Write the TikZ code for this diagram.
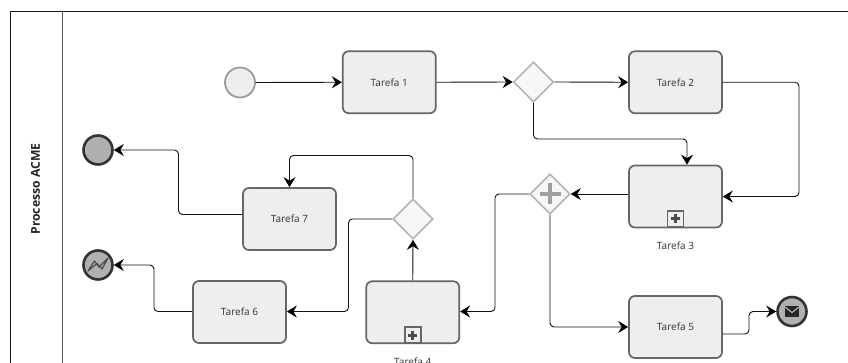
\documentclass[tikz,border=0pt]{standalone}
\usepackage{fontspec}
\setmainfont{Open Sans}
\usetikzlibrary{arrows.meta,shapes.geometric,calc}
\definecolor{taskline}{HTML}{666666}
\definecolor{taskfill}{HTML}{EEEEEE}
\definecolor{gateline}{HTML}{B4B4B4}
\definecolor{endfill}{HTML}{B0B0B0}
\definecolor{endline}{HTML}{333333}
\definecolor{flow}{HTML}{111111}
\tikzset{
  taskbox/.style={draw=taskline,fill=taskfill,line width=1.7pt,rounded corners=6pt,minimum width=93pt,minimum height=62pt,inner sep=0pt,font=\fontsize{10}{11}\selectfont,text=black!80},
  gate/.style={diamond,draw=gateline,fill=white!97!black,line width=1.6pt,minimum width=40pt,minimum height=40pt,inner sep=0pt},
  startev/.style={circle,draw=gray!80,fill=taskfill,line width=1.8pt,minimum size=30pt,inner sep=0pt},
  endev/.style={circle,draw=endline,fill=endfill,line width=2.6pt,minimum size=29pt,inner sep=0pt},
  flowline/.style={draw=flow,line width=0.9pt,rounded corners=4pt,-{Stealth[length=10pt,width=12pt,inset=3.5pt,color=black]}},
  caption/.style={font=\fontsize{10}{11}\selectfont,text=black!80,inner sep=0pt},
  plusbar/.style={line width=4.2pt,draw=gray!75},
  markbox/.style={draw=taskline,fill=taskfill,line width=1.6pt,minimum size=16pt,inner sep=0pt},
  markplus/.style={line width=3pt,draw=black!70}
}
\begin{document}
\begin{tikzpicture}[x=1pt,y=-1pt]
\clip (0,0) rectangle (848,363);
\fill[white] (0,0) rectangle (848,363);
% pool
\draw[black!90,line width=0.8pt] (848,11.5) -- (10.5,11.5) -- (10.5,370);
\draw[black!65,line width=1pt] (62,11.5) -- (62,370);
\node[rotate=90,font=\fontsize{12.2}{14}\bfseries\selectfont,text=black!85,inner sep=0pt] (pool) at (35.5,189) {Processo ACME};
% events
\node[startev] (start) at (240,82.5) {};
\node[endev] (endA) at (98,150) {};
\node[endev] (endB) at (98,265) {};
\node[endev] (endC) at (792,311.5) {};
% tasks
\node[taskbox] (t1) at (389.25,82.25) {Tarefa 1};
\node[taskbox] (t2) at (675.5,82.25) {Tarefa 2};
\node[taskbox] (t3) at (675.5,196.5) {};
\node[taskbox] (t4) at (412.75,312.25) {};
\node[taskbox] (t5) at (675.5,327) {Tarefa 5};
\node[taskbox] (t6) at (239.5,312) {Tarefa 6};
\node[taskbox] (t7) at (289.5,219) {Tarefa 7};
\node[caption] (c3) at (675.5,246) {Tarefa 3};
\node[caption] (c4) at (412.75,362) {Tarefa 4};
% sub-process markers
\node[markbox] (m3) at (675.5,219) {};
\node[markbox] (m4) at (412.75,335) {};
\draw[markplus] ($(m3)+(-4.5,0)$) -- ($(m3)+(4.5,0)$) ($(m3)+(0,-4.5)$) -- ($(m3)+(0,4.5)$);
\draw[markplus] ($(m4)+(-4.5,0)$) -- ($(m4)+(4.5,0)$) ($(m4)+(0,-4.5)$) -- ($(m4)+(0,4.5)$);
% gateways
\node[gate] (g1) at (533.5,82) {};
\node[gate] (g2) at (550,194) {};
\node[gate] (g3) at (413,219) {};
\draw[plusbar] ($(g2)+(-10.5,0)$) -- ($(g2)+(10.5,0)$) ($(g2)+(0,-10.5)$) -- ($(g2)+(0,10.5)$);
% event icons
\draw[line width=1.2pt,draw=black!70,line join=round] ($(endB)+(-10,6)$) -- ($(endB)+(-3.5,-4)$) -- ($(endB)+(1,2)$) -- ($(endB)+(10,-7)$) -- ($(endB)+(4,4)$) -- ($(endB)+(-1,-1.5)$) -- cycle;
\fill[black!85] ($(endC)+(-7,-5.5)$) rectangle ($(endC)+(7,5.5)$);
\draw[endfill,line width=1.2pt] ($(endC)+(-7,-4.5)$) -- ($(endC)+(0,1)$) -- ($(endC)+(7,-4.5)$);
% flows
\draw[flowline] (start.east) -- (t1.west);
\draw[flowline] (t1.east) -- (g1.west);
\draw[flowline] (g1.east) -- (t2.west);
\draw[flowline] (t2.east) -- (799,82.25) -- (799,196.5) -- (t3.east);
\draw[flowline] (g1.south) -- (533.5,139) -- (687,139) -- ($(t3.north)+(11.5,0)$);
\draw[flowline] ($(t3.west)+(0,-2.5)$) -- (g2.east);
\draw[flowline] (g2.west) -- (495,194) -- (495,311.5) -- ($(t4.east)+(0,-0.75)$);
\draw[flowline] (g2.south) -- (550,327) -- (t5.west);
\draw[flowline] ($(t5.east)+(0,7)$) -- (749,334) -- (749,311.5) -- (endC.west);
\draw[flowline] (t4.north) -- (g3.south);
\draw[flowline] (g3.north) -- (413,155.5) -- (289.5,155.5) -- (t7.north);
\draw[flowline] (g3.west) -- (348.5,219) -- (348.5,311.5) -- ($(t6.east)+(0,-0.5)$);
\draw[flowline] ($(t7.west)+(0,-4.5)$) -- (178.5,214.5) -- (178.5,150) -- (endA.east);
\draw[flowline] ($(t6.west)+(0,-0.5)$) -- (154,311.5) -- (154,265) -- (endB.east);
\end{tikzpicture}
\end{document}
